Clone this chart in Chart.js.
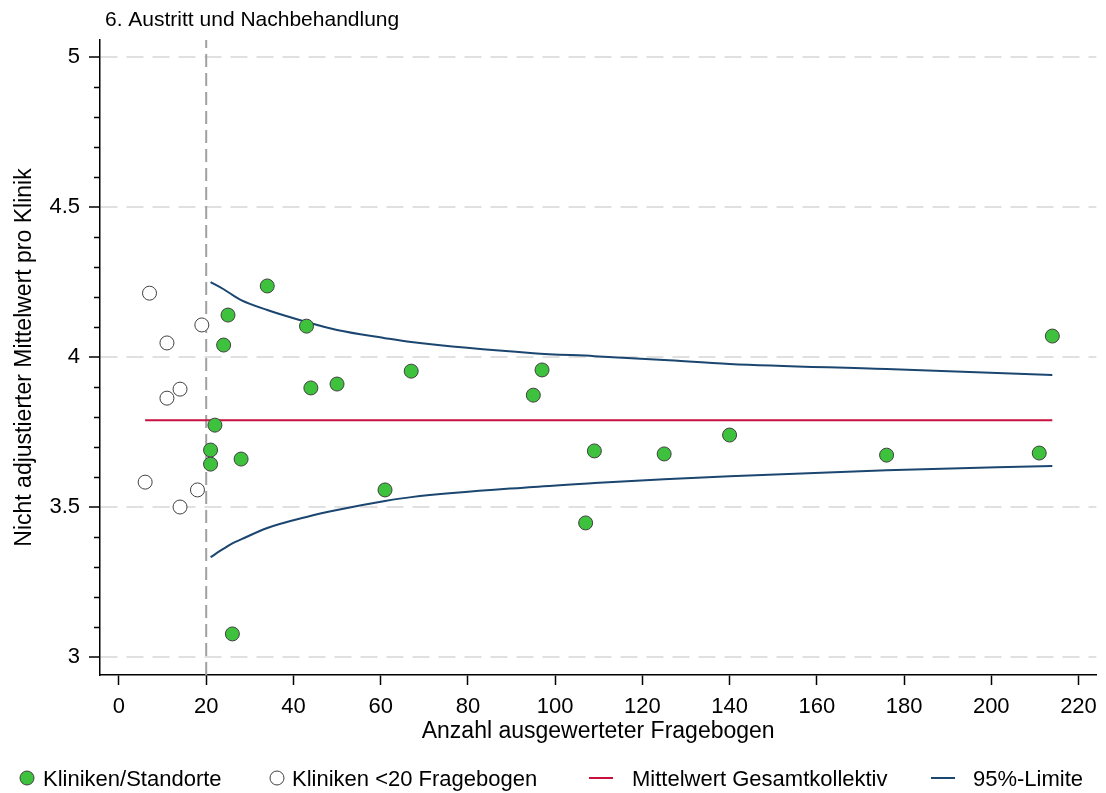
<!DOCTYPE html>
<html>
<head>
<meta charset="utf-8">
<script src="https://cdn.jsdelivr.net/npm/chart.js@4.4.0/dist/chart.umd.min.js"></script>
<style>
  html, body { margin: 0; padding: 0; background: #fff; }
</style>
</head>
<body>
<canvas id="chart" width="1106" height="793"></canvas>
<script>
// Kliniken/Standorte (ab 20 Fragebogen)
const clinicN    = [21, 21, 22, 24, 25, 26, 28, 34, 43, 44, 50, 61, 67, 95, 97, 107, 109, 125, 140, 176, 211, 214];
const clinicMean = [3.69, 3.643, 3.773, 4.04, 4.14, 3.077, 3.66, 4.237, 4.103, 3.897, 3.91, 3.557, 3.953, 3.873, 3.957, 3.447, 3.687, 3.677, 3.74, 3.673, 3.68, 4.07];

// Kliniken <20 Fragebogen
const smallN    = [6, 7, 11, 11, 14, 14, 18, 19];
const smallMean = [3.583, 4.213, 4.047, 3.863, 3.893, 3.5, 3.557, 4.107];

// Mittelwert Gesamtkollektiv
const meanN = [6, 214];
const meanValue = 3.789;

// 95%-Limite
const limitN     = [21, 24, 26, 28, 34, 43, 50, 61, 67, 95, 109, 125, 140, 176, 214];
const limitUpper = [4.25, 4.226, 4.207, 4.19, 4.157, 4.117, 4.09, 4.063, 4.05, 4.013, 4.003, 3.99, 3.977, 3.96, 3.94];
const limitLower = [3.333, 3.361, 3.379, 3.392, 3.43, 3.467, 3.49, 3.52, 3.533, 3.567, 3.58, 3.593, 3.603, 3.623, 3.637];

// Grenze 20 Fragebogen
const cutoffN = 20;

const xRange = [-4.35, 224.1];
const yRange = [2.94, 5.057];

const titleText = '6. Austritt und Nachbehandlung';
const xTitle = 'Anzahl ausgewerteter Fragebogen';
const yTitle = 'Nicht adjustierter Mittelwert pro Klinik';

const FONT = '"Liberation Sans", Arial, sans-serif';
const green = '#3ec23e';
const edge = '#404040';
const red = '#c8103e';
const blue = '#1b4670';

function toPoints(xs, ys) {
    return xs.map((x, i) => ({ x: x, y: Array.isArray(ys) ? ys[i] : ys }));
}

// title, legend and minor y ticks
const decorations = {
    id: 'decorations',
    afterDraw(chart) {
        const { ctx, chartArea } = chart;
        const y = chart.scales.y;
        ctx.save();

        ctx.strokeStyle = '#000';
        ctx.lineWidth = 1.5;
        for (let v = 3.1; v < 5; v += 0.1) {
            const r = Math.round(v * 10) / 10;
            if (Math.abs(r * 2 - Math.round(r * 2)) < 1e-6) continue;
            const py = Math.round(y.getPixelForValue(r)) + 0.5;
            ctx.beginPath();
            ctx.moveTo(chartArea.left - 6, py);
            ctx.lineTo(chartArea.left, py);
            ctx.stroke();
        }

        ctx.fillStyle = '#000';
        ctx.textAlign = 'left';
        ctx.textBaseline = 'alphabetic';
        ctx.font = '21px ' + FONT;
        ctx.fillText(titleText, 105, 26);

        // legend
        const ly = 778;
        ctx.font = '22px ' + FONT;
        const items = [
            { kind: 'dot', fill: green, x: 27, tx: 43, text: chart.data.datasets[0].label },
            { kind: 'dot', fill: '#fff', x: 277, tx: 292, text: chart.data.datasets[1].label },
            { kind: 'line', color: red, x: 589, tx: 632, text: chart.data.datasets[2].label },
            { kind: 'line', color: blue, x: 931, tx: 973, text: chart.data.datasets[3].label }
        ];
        items.forEach(it => {
            if (it.kind === 'dot') {
                ctx.beginPath();
                ctx.arc(it.x, ly, 7, 0, Math.PI * 2);
                ctx.fillStyle = it.fill;
                ctx.fill();
                ctx.strokeStyle = edge;
                ctx.lineWidth = 1;
                ctx.stroke();
            } else {
                ctx.beginPath();
                ctx.moveTo(it.x, ly);
                ctx.lineTo(it.x + 24, ly);
                ctx.strokeStyle = it.color;
                ctx.lineWidth = 2;
                ctx.stroke();
            }
            ctx.fillStyle = '#000';
            ctx.fillText(it.text, it.tx, ly + 8);
        });
        ctx.restore();
    }
};

const ctx = document.getElementById('chart').getContext('2d');
new Chart(ctx, {
    type: 'scatter',
    data: {
        datasets: [
            {
                label: 'Kliniken/Standorte',
                data: toPoints(clinicN, clinicMean),
                backgroundColor: green,
                borderColor: edge,
                borderWidth: 1,
                pointRadius: 7,
                order: 0
            },
            {
                label: 'Kliniken <20 Fragebogen',
                data: toPoints(smallN, smallMean),
                backgroundColor: '#fff',
                borderColor: edge,
                borderWidth: 1,
                pointRadius: 7,
                order: 1
            },
            {
                label: 'Mittelwert Gesamtkollektiv',
                data: toPoints(meanN, meanValue),
                showLine: true,
                borderColor: red,
                borderWidth: 2,
                pointRadius: 0,
                order: 2
            },
            {
                label: '95%-Limite',
                data: toPoints(limitN, limitUpper),
                showLine: true,
                borderColor: blue,
                borderWidth: 2,
                pointRadius: 0,
                cubicInterpolationMode: 'monotone',
                order: 3
            },
            {
                label: '95%-Limite (unten)',
                data: toPoints(limitN, limitLower),
                showLine: true,
                borderColor: blue,
                borderWidth: 2,
                pointRadius: 0,
                cubicInterpolationMode: 'monotone',
                order: 3
            },
            {
                label: '20 Fragebogen',
                data: toPoints([cutoffN, cutoffN], yRange),
                showLine: true,
                borderColor: '#a0a0a0',
                borderWidth: 2,
                borderDash: [13, 6],
                pointRadius: 0,
                order: 5
            }
        ]
    },
    options: {
        responsive: false,
        animation: false,
        layout: { padding: { top: 40, right: 9, left: 0, bottom: 48 } },
        plugins: {
            legend: { display: false },
            tooltip: { enabled: false }
        },
        scales: {
            x: {
                type: 'linear',
                min: xRange[0],
                max: xRange[1],
                afterFit(scale) { scale.height = 70; },
                ticks: {
                    stepSize: 20,
                    includeBounds: false,
                    maxRotation: 0,
                    padding: 9,
                    color: '#000',
                    font: { family: FONT, size: 22 }
                },
                grid: {
                    drawOnChartArea: false,
                    tickLength: 10,
                    tickColor: '#000',
                    tickWidth: 1.5
                },
                border: { color: '#000', width: 1.5 },
                title: {
                    display: true,
                    text: xTitle,
                    color: '#000',
                    padding: { top: 0, bottom: 0 },
                    font: { family: FONT, size: 23 }
                }
            },
            y: {
                type: 'linear',
                min: yRange[0],
                max: yRange[1],
                afterFit(scale) { scale.width = 100; },
                ticks: {
                    stepSize: 0.5,
                    includeBounds: false,
                    padding: 9,
                    color: '#000',
                    font: { family: FONT, size: 22 },
                    callback: (value) => String(Math.round(value * 10) / 10)
                },
                grid: {
                    color: '#e0e0e0',
                    lineWidth: 2,
                    tickLength: 11,
                    tickColor: '#000',
                    tickWidth: 1.5
                },
                border: { color: '#000', width: 1.5, dash: [17, 9] },
                title: {
                    display: true,
                    text: yTitle,
                    color: '#000',
                    padding: { top: 11, bottom: 0 },
                    font: { family: FONT, size: 23 }
                }
            }
        }
    },
    plugins: [decorations]
});
</script>
</body>
</html>
